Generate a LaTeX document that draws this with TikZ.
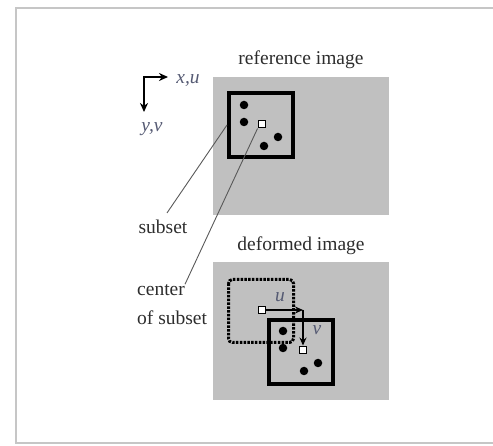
\documentclass[tikz,border=0pt]{standalone}
\usepackage{fontspec}
\setmainfont{Liberation Serif}
\usetikzlibrary{arrows.meta}
\definecolor{imggray}{RGB}{192,192,192}
\definecolor{txtgray}{RGB}{45,45,45}
\definecolor{symblue}{RGB}{85,90,115}
\tikzset{
  lbl/.style={text=txtgray, font=\fontsize{19.5}{22}\selectfont, inner sep=0pt},
  sym/.style={text=symblue, font=\fontsize{19.5}{22}\selectfont\itshape, inner sep=0pt},
  subsetbox/.style={draw, line width=4pt, minimum size=64pt, inner sep=0pt},
  ctrbox/.style={draw, fill=white, line width=1.4pt, minimum size=7.5pt, inner sep=0pt},
  dot/.style={circle, fill, minimum size=8.5pt, inner sep=0pt},
  leader/.style={draw=gray!70!black, line width=0.9pt},
  vec/.style={line width=1.4pt, -{Stealth[length=8pt,width=7pt,open]}},
}
\begin{document}
\begin{tikzpicture}[x=1pt, y=-1pt]
\useasboundingbox (0,0) rectangle (493,446);

% frame
\draw[gray!45, line width=1.5pt]
    (494,8) -- (16,8) -- (16,443) -- (494,443);

% images
\fill[imggray] (213,77) rectangle (389,215);
\fill[imggray] (213,262) rectangle (389,400);

\node[lbl] (reftitle) at (301,60) {reference image};
\node[lbl] (deftitle) at (301,246) {deformed image};

% axes
\coordinate (ax) at (144,77);
\coordinate (axx) at (168,77);
\coordinate (axy) at (144,112);
\draw[line width=2pt, {Stealth[length=9pt,width=8pt]}-{Stealth[length=9pt,width=8pt]}]
    (axy) -- (ax) -- (axx);
\node[sym] (xu) at (188,81) {x,u};
\node[sym] (yv) at (152,129) {y,v};

% reference subset
\node[subsetbox] (refsub) at (261,125) {};
\node[dot] (r1) at (244,105) {};
\node[dot] (r2) at (244,122) {};
\node[dot] (r3) at (278,137) {};
\node[dot] (r4) at (264,146) {};
\node[ctrbox] (refc) at (262,124) {};

% deformed subset
\draw[line width=3pt, dash pattern=on 2.5pt off 1.3pt, rounded corners=4pt]
    (228.5,279.5) rectangle (293.5,342.5);
\node[subsetbox] (defsub) at (301,352) {};
\node[dot] (d1) at (283,331) {};
\node[dot] (d2) at (283,348) {};
\node[dot] (d3) at (318,363) {};
\node[dot] (d4) at (304,371) {};
\node[ctrbox] (defc0) at (262,310) {};
\node[ctrbox] (defc1) at (303,350) {};
\coordinate (uv) at (303,310);
\draw[vec] (defc0.east) -- (uv);
\draw[vec] (uv) -- (defc1.north);
\node[sym] (ulbl) at (280,297) {u};
\node[sym] (vlbl) at (317,330) {v};

% labels
\node[lbl] (subsetlbl) at (163,227) {subset};
\node[lbl, anchor=west] (ctrlbl) at (137,290) {center};
\node[lbl, anchor=west] (oflbl) at (137,318) {of subset};
\draw[leader] (subsetlbl.north) ++(4,-7) -- (refsub.west);
\draw[leader] (ctrlbl.north east) -- (refc.south west);
\end{tikzpicture}
\end{document}
